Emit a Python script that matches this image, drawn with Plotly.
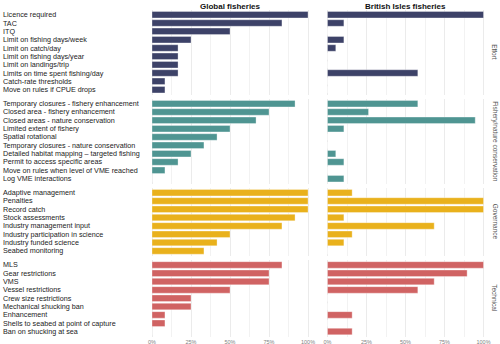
import plotly.graph_objects as go

# ---------------- data ----------------
effort_labels = ["Licence required", "TAC", "ITQ", "Limit on fishing days/week",
                 "Limit on catch/day", "Limit on fishing days/year", "Limit on landings/trip",
                 "Limits on time spent fishing/day", "Catch-rate thresholds",
                 "Move on rules if CPUE drops"]
effort_global = [100, 83.3, 50, 25, 16.7, 16.7, 16.7, 16.7, 8.3, 8.3]
effort_bi = [100, 10.5, 0, 10.5, 5.3, 0, 0, 57.9, 0, 0]

fishery_labels = ["Temporary closures - fishery enhancement", "Closed area - fishery enhancement",
                  "Closed areas - nature conservation", "Limited extent of fishery",
                  "Spatial rotational", "Temporary closures - nature conservation",
                  "Detailed habitat mapping \u2013 targeted fishing", "Permit to access specific areas",
                  "Move on rules when level of VME reached", "Log VME interactions"]
fishery_global = [91.7, 75, 66.7, 50, 41.7, 33.3, 25, 16.7, 8.3, 0]
fishery_bi = [57.9, 26.3, 94.7, 10.5, 0, 0, 5.3, 10.5, 0, 10.5]

gov_labels = ["Adaptive management", "Penalties", "Record catch", "Stock assessments",
              "Industry management input", "Industry participation in science",
              "Industry funded science", "Seabed monitoring"]
gov_global = [100, 100, 100, 91.7, 83.3, 50, 41.7, 33.3]
gov_bi = [15.8, 100, 100, 10.5, 68.4, 15.8, 10.5, 0]

tech_labels = ["MLS", "Gear restrictions", "VMS", "Vessel restrictions", "Crew size restrictions",
               "Mechanical shucking ban", "Enhancement", "Shells to seabed at point of capture",
               "Ban on shucking at sea"]
tech_global = [83.3, 75, 75, 50, 25, 25, 8.3, 8.3, 0]
tech_bi = [100, 89.5, 68.4, 57.9, 0, 0, 15.8, 0, 15.8]

groups = ["Effort", "Fishery/nature conservation", "Governance", "Technical"]
columns = ["Global fisheries", "British Isles fisheries"]
tick_vals = [0, 25, 50, 75, 100]
tick_text = ["0%", "25%", "50%", "75%", "100%"]

panels = [
    (effort_labels, effort_global, effort_bi),
    (fishery_labels, fishery_global, fishery_bi),
    (gov_labels, gov_global, gov_bi),
    (tech_labels, tech_global, tech_bi),
]
colors = ["#3d4268", "#4f9592", "#e9b11c", "#d06363"]

# ---------------- layout geometry ----------------
W, H = 500, 344
s = 8.33    # px per row
gap = 4.0
top0 = 9.7
xpx_per_unit = 1.56
pad = 4
col_zero = [152.0, 327.5]

fig = go.Figure()
layout = dict(width=W, height=H, margin=dict(l=0, r=0, t=0, b=0),
              paper_bgcolor="white", plot_bgcolor="white", showlegend=False,
              bargap=0.22, annotations=[])

label_font = dict(family="Liberation Sans, Arial, sans-serif", size=7.2, color="#222222")

top = top0
for r, (labels, gvals, bvals) in enumerate(panels):
    n = len(labels)
    height = (n + 0.2) * s
    bottom = top + height
    ydom = [1 - bottom / H, 1 - top / H]
    for c, vals in enumerate([gvals, bvals]):
        idx = r * 2 + c + 1
        xa = "x" if idx == 1 else f"x{idx}"
        ya = "y" if idx == 1 else f"y{idx}"
        fig.add_trace(go.Bar(
            x=vals, y=labels, orientation="h", xaxis=xa, yaxis=ya,
            marker=dict(color=colors[r], line=dict(color="rgba(255,255,255,0.55)", width=0.6)),
            width=0.78, hoverinfo="x+y"))
        x0 = col_zero[c] - pad * xpx_per_unit
        x1 = col_zero[c] + (100 + pad) * xpx_per_unit
        layout["xaxis" if idx == 1 else f"xaxis{idx}"] = dict(
            domain=[x0 / W, x1 / W], range=[-pad, 100 + pad], anchor=ya,
            tickvals=tick_vals, ticktext=tick_text, showticklabels=(r == 3),
            tickfont=dict(family="Liberation Sans, Arial, sans-serif", size=5.5, color="#7f7f7f"),
            showgrid=True, gridcolor="#ebebeb", gridwidth=0.7, zeroline=False,
            minor=dict(dtick=12.5, tick0=0, showgrid=True, gridcolor="#f2f2f2", gridwidth=0.5),
            ticks="", showline=False, fixedrange=True, ticklabelstandoff=1)
        layout["yaxis" if idx == 1 else f"yaxis{idx}"] = dict(
            domain=ydom, anchor=xa, type="category", categoryorder="array",
            categoryarray=labels, range=[n - 0.4, -0.6], showticklabels=False,
            showgrid=False, zeroline=False, ticks="", fixedrange=True)
        if c == 0:
            for lab in labels:
                layout["annotations"].append(dict(
                    x=1 / W, xref="paper", xanchor="left", y=lab, yref=ya, yanchor="middle",
                    text=lab, showarrow=False, font=label_font))
    # strip label on right
    layout["annotations"].append(dict(
        x=495 / W, xref="paper", y=1 - (top + bottom) / 2 / H, yref="paper",
        text=groups[r], textangle=90, showarrow=False, xanchor="center", yanchor="middle",
        font=dict(family="Liberation Sans, Arial, sans-serif", size=6.5, color="#555555")))
    top = bottom + gap

# column titles
for c, title in enumerate(columns):
    cx = col_zero[c] + 50 * xpx_per_unit
    layout["annotations"].append(dict(
        x=cx / W, xref="paper", y=1 - 6 / H, yref="paper", text=f"<b>{title}</b>",
        showarrow=False, xanchor="center", yanchor="middle",
        font=dict(family="Liberation Sans, Arial, sans-serif", size=8, color="#111111")))

fig.update_layout(**layout)
fig.write_html("out.html")
